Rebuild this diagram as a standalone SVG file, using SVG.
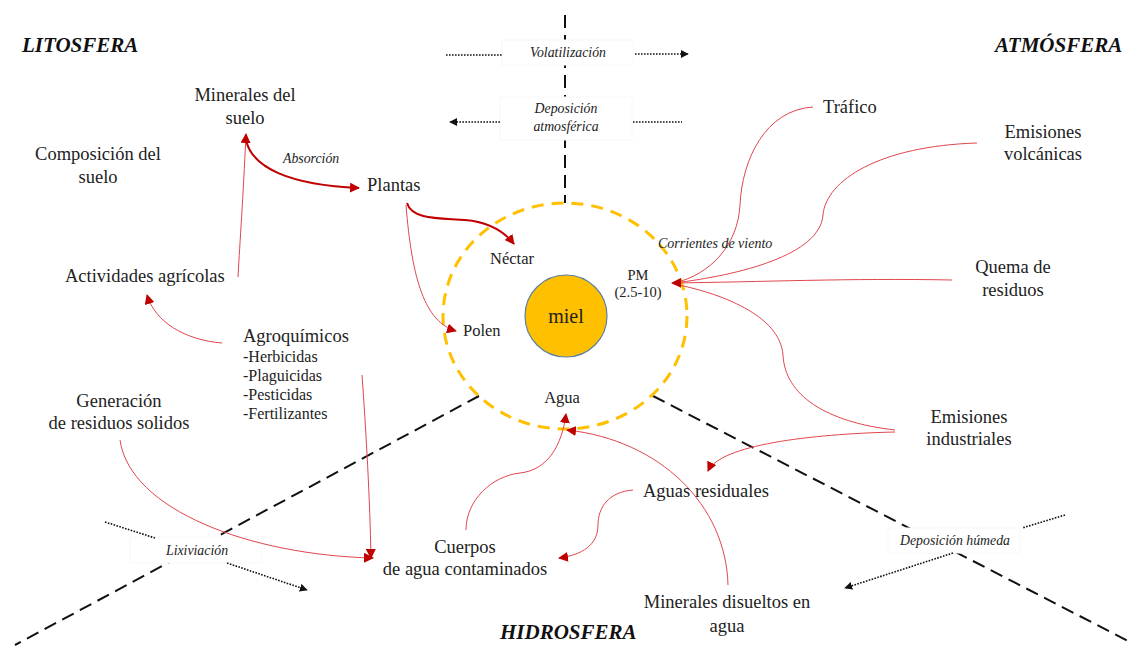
<svg xmlns="http://www.w3.org/2000/svg" width="1133" height="646" viewBox="0 0 1133 646">
<defs>
<style>
text{font-family:"Liberation Serif","Times New Roman",serif;fill:#222}
.sphere{font-size:21px;font-weight:bold;font-style:italic;fill:#111}
.lbl{font-size:18.5px}
.sm{font-size:16.5px}
.li{font-size:16px}
.pm{font-size:14.5px}
.it{font-size:13.8px;font-style:italic;fill:#222}
.mid{text-anchor:middle}
.dash{fill:none;stroke:#111;stroke-width:2;stroke-dasharray:13 7}
.dot{fill:none;stroke:#111;stroke-width:1.6;stroke-dasharray:1.6 1.4}
.thin{fill:none;stroke:#E0464E;stroke-width:1}
.thick{fill:none;stroke:#C00000;stroke-width:2}
.box{fill:#fff;stroke:#f8f8f8;stroke-width:1}
</style>
<marker id="ar" viewBox="0 0 10 10" refX="9" refY="5" markerWidth="10" markerHeight="10" markerUnits="userSpaceOnUse" orient="auto">
<path d="M0,0 L10,5 L0,10 z" fill="#C00000"/>
</marker>
<marker id="ab" viewBox="0 0 10 10" refX="9" refY="5" markerWidth="8" markerHeight="8" markerUnits="userSpaceOnUse" orient="auto">
<path d="M0,0 L10,5 L0,10 z" fill="#111"/>
</marker>
</defs>

<g id="boundaries">
<line class="dash" x1="565" y1="15" x2="565" y2="203"/>
<line class="dash" x1="479" y1="396" x2="15" y2="645"/>
<line class="dash" x1="653" y1="396" x2="1132" y2="643"/>
</g>

<g id="process-labels">
<rect class="box" x="502" y="40" width="131" height="25"/>
<text class="it mid" x="568" y="57">Volatilización</text>
<rect class="box" x="500" y="97" width="132" height="43"/>
<text class="it mid" x="566" y="113">Deposición</text>
<text class="it mid" x="566" y="131">atmosférica</text>
<rect class="box" x="130" y="537" width="132" height="26"/>
<text class="it mid" x="197" y="555">Lixiviación</text>
<rect class="box" x="888" y="528" width="132" height="25"/>
<text class="it mid" x="955" y="545">Deposición húmeda</text>
</g>

<g id="spheres">
<text class="sphere" x="22" y="52">LITOSFERA</text>
<text class="sphere" x="995" y="52">ATMÓSFERA</text>
<text class="sphere" x="500" y="639">HIDROSFERA</text>
</g>

<g id="hive">
<ellipse cx="565" cy="316" rx="122" ry="113" fill="none" stroke="#FFC000" stroke-width="3" stroke-dasharray="12 8"/>
</g>
<g id="miel">
<circle cx="566" cy="316" r="41" fill="#FFC000" stroke="#5B7FA6" stroke-width="1.2"/>
<text class="mid" x="566" y="323" style="font-size:20px">miel</text>
</g>

<g id="connectors">
<path class="dot" d="M446,55 L502,55"/>
<path class="dot" d="M635,54 L688,54" marker-end="url(#ab)"/>
<path class="dot" d="M500,122 L450,122" marker-end="url(#ab)"/>
<path class="dot" d="M633,122 L682,122"/>
<path class="dot" d="M105,522 L155,538"/>
<path class="dot" d="M227,563 L307,590" marker-end="url(#ab)"/>
<path class="dot" d="M1065,515 L1022,528"/>
<path class="dot" d="M953,553 L845,588" marker-end="url(#ab)"/>

<path class="thick" d="M246,140 C252,168 290,185 359,188" marker-end="url(#ar)"/>
<path class="thin" d="M238,277 C240,240 243,200 246,134" marker-end="url(#ar)"/>
<path class="thick" d="M407,203 C412,220 440,218 465,220 C488,222 503,230 514,244" marker-end="url(#ar)"/>
<path class="thin" d="M406,205 C412,280 425,322 456,331" marker-end="url(#ar)"/>
<path class="thin" d="M222,343 C185,340 155,322 147,295" marker-end="url(#ar)"/>
<path class="thin" d="M362,375 C366,430 370,500 371,558" marker-end="url(#ar)"/>
<path class="thin" d="M120,440 C130,510 250,555 373,558" marker-end="url(#ar)"/>

<path class="thin" d="M813,107 C765,110 742,160 740,205 C738,245 710,275 674,283"/>
<path class="thin" d="M977,143 C880,146 826,180 823,215 C820,255 740,275 674,283"/>
<path class="thin" d="M895,430 C825,422 785,395 783,355 C780,315 720,293 674,284"/>
<path class="thin" d="M952,280 C850,278 760,282 672,283" marker-end="url(#ar)"/>
<path class="thin" d="M895,432 C810,434 720,445 708,471" marker-end="url(#ar)"/>

<path class="thin" d="M633,490 C608,492 598,508 598,525 C598,545 582,555 559,558" marker-end="url(#ar)"/>
<path class="thin" d="M466,530 C466,500 492,476 520,473 C548,470 562,445 566,414" marker-end="url(#ar)"/>
<path class="thin" d="M728,585 C726,505 660,440 567,430" marker-end="url(#ar)"/>
</g>

<g id="minerales-suelo"><text class="lbl mid" x="245" y="101">Minerales del</text><text class="lbl mid" x="245" y="124">suelo</text></g>
<g id="composicion"><text class="lbl mid" x="98" y="160">Composición del</text><text class="lbl mid" x="98" y="183">suelo</text></g>
<g id="absorcion"><text class="it" x="283" y="163">Absorción</text></g>
<g id="plantas"><text class="lbl" x="367" y="191">Plantas</text></g>
<g id="actividades"><text class="lbl" x="65" y="282">Actividades agrícolas</text></g>
<g id="agroquimicos">
<text class="lbl" x="243" y="342">Agroquímicos</text>
<text class="li" x="243" y="362">-Herbicidas</text>
<text class="li" x="243" y="381">-Plaguicidas</text>
<text class="li" x="243" y="400">-Pesticidas</text>
<text class="li" x="243" y="419">-Fertilizantes</text>
</g>
<g id="generacion"><text class="lbl mid" x="119" y="407">Generación</text><text class="lbl mid" x="119" y="429">de residuos solidos</text></g>
<g id="nectar"><text class="sm" x="490" y="264">Néctar</text></g>
<g id="polen"><text class="sm" x="463" y="336">Polen</text></g>
<g id="pm"><text class="pm mid" x="638" y="280">PM</text><text class="pm mid" x="638" y="297">(2.5-10)</text></g>
<g id="agua"><text class="sm mid" x="562" y="403">Agua</text></g>
<g id="corrientes"><text class="it" x="658" y="248" style="font-size:14px">Corrientes de viento</text></g>
<g id="trafico"><text class="lbl" x="823" y="113">Tráfico</text></g>
<g id="volcanicas"><text class="lbl mid" x="1043" y="138">Emisiones</text><text class="lbl mid" x="1043" y="160">volcánicas</text></g>
<g id="quema"><text class="lbl mid" x="1013" y="273">Quema de</text><text class="lbl mid" x="1013" y="296">residuos</text></g>
<g id="industriales"><text class="lbl mid" x="969" y="423">Emisiones</text><text class="lbl mid" x="969" y="445">industriales</text></g>
<g id="aguas-residuales"><text class="lbl" x="643" y="497">Aguas residuales</text></g>
<g id="cuerpos"><text class="lbl mid" x="465" y="553">Cuerpos</text><text class="lbl mid" x="465" y="575">de agua contaminados</text></g>
<g id="minerales-disueltos"><text class="lbl mid" x="727" y="608">Minerales disueltos en</text><text class="lbl mid" x="727" y="632">agua</text></g>
</svg>
